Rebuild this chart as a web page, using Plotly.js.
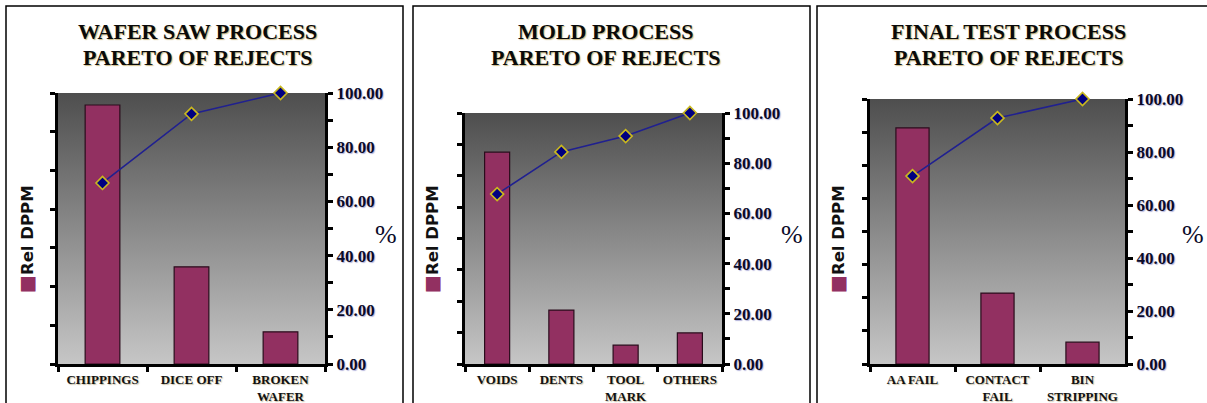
<!DOCTYPE html>
<html>
<head>
<meta charset="utf-8">
<script src="https://cdn.plot.ly/plotly-3.0.1.min.js"></script>
<style>
  html, body { margin: 0; padding: 0; background: #ffffff; }
  #chart { width: 1207px; height: 403px; }
</style>
</head>
<body>
<div id="chart"></div>
<script>
// ---------------- DATA ----------------
const waferCategories = ['CHIPPINGS', 'DICE OFF', 'BROKEN<br>WAFER'];
const waferDppm       = [6.69, 2.51, 0.83];
const waferCumPct     = [66.8, 92.3, 100];

const moldCategories  = ['VOIDS', 'DENTS', 'TOOL<br>MARK', 'OTHERS'];
const moldDppm        = [6.75, 1.72, 0.60, 0.99];
const moldCumPct      = [67.7, 84.5, 90.8, 100];

const finalCategories = ['AA FAIL', 'CONTACT<br>FAIL', 'BIN<br>STRIPPING'];
const finalDppm       = [7.13, 2.14, 0.66];
const finalCumPct     = [70.9, 92.8, 100];

const panelTitleLine1 = ['WAFER SAW PROCESS', 'MOLD PROCESS', 'FINAL TEST PROCESS'];
const panelTitleLine2 = ['PARETO OF REJECTS', 'PARETO OF REJECTS', 'PARETO OF REJECTS'];
const legendLabel = 'Rel DPPM';
const pctLabel = '%';

// ---------------- LAYOUT GEOMETRY (pixels) ----------------
const W = 1207, H = 403;
const geom = [
  {cats: waferCategories, vals: waferDppm, cum: waferCumPct, left: 58,  right: 325,  top: 93,  bottom: 364, lmax: 7, legX: 26,  pctX: 386,  titleX: 198,  border: [6, 403]},
  {cats: moldCategories,  vals: moldDppm,  cum: moldCumPct,  left: 465, right: 722,  top: 113, bottom: 364, lmax: 8, legX: 431, pctX: 792,  titleX: 605,  border: [413, 810]},
  {cats: finalCategories, vals: finalDppm, cum: finalCumPct, left: 870, right: 1125, top: 99,  bottom: 364, lmax: 8, legX: 837, pctX: 1193, titleX: 1008, border: [817, 1215]}
];
const px = x => x / W;
const py = y => 1 - y / H;

const serif = 'Liberation Serif, Times New Roman, serif';
const sans = 'DejaVu Sans, Verdana, sans-serif';

const bgSvg = "<svg xmlns='http://www.w3.org/2000/svg' width='100' height='100' preserveAspectRatio='none'>" +
  "<defs><linearGradient id='g' x1='0' y1='0' x2='0' y2='1'>" +
  "<stop offset='0' stop-color='#4e4e4e'/><stop offset='0.5' stop-color='#8a8a8a'/><stop offset='1' stop-color='#c6c6c6'/>" +
  "</linearGradient></defs><rect width='100' height='100' fill='url(#g)'/></svg>";
const bgSrc = 'data:image/svg+xml;charset=utf-8,' + encodeURIComponent(bgSvg);

const traces = [];
const layout = {
  width: W, height: H,
  margin: {l: 0, r: 0, t: 0, b: 0},
  paper_bgcolor: '#ffffff',
  plot_bgcolor: 'rgba(0,0,0,0)',
  showlegend: false,
  bargap: 0.61,
  images: [], shapes: [], annotations: []
};

const titleFont = {family: serif, size: 22, color: '#0a0a0a', weight: 'bold', shadow: '1px 1px 1px rgba(170,140,50,0.6)'};

geom.forEach((g, i) => {
  const xid = i === 0 ? 'x' : 'x' + (i + 1);
  const yLn = 2 * i + 1, yRn = 2 * i + 2;
  const yL = yLn === 1 ? 'y' : 'y' + yLn;
  const yR = 'y' + yRn;
  const xKey = i === 0 ? 'xaxis' : 'xaxis' + (i + 1);
  const yLKey = yLn === 1 ? 'yaxis' : 'yaxis' + yLn;
  const yRKey = 'yaxis' + yRn;

  traces.push({
    type: 'bar', x: g.cats, y: g.vals, xaxis: xid, yaxis: yL,
    marker: {color: '#923061', line: {color: '#2a0c1c', width: 1.2}},
    hoverinfo: 'skip'
  });
  traces.push({
    type: 'scatter', mode: 'lines+markers', x: g.cats, y: g.cum, xaxis: xid, yaxis: yR,
    line: {color: '#202090', width: 1.6},
    marker: {symbol: 'diamond', size: 10, color: '#000080', line: {color: '#c9b81e', width: 1.6}},
    cliponaxis: false,
    hoverinfo: 'skip'
  });

  layout[xKey] = {
    domain: [px(g.left), px(g.right)], anchor: yL,
    type: 'category', range: [-0.5, g.cats.length - 0.5],
    showline: true, linecolor: '#000', linewidth: 3,
    ticks: 'outside', tickson: 'boundaries', ticklen: 5, tickwidth: 3, tickcolor: '#000',
    tickangle: 0, automargin: false, ticklabelstandoff: 1,
    showgrid: false, zeroline: false, fixedrange: true,
    tickfont: {family: serif, size: 13, color: '#111111', weight: 'bold', shadow: '1px 1px 1px rgba(140,120,60,0.45)'}
  };
  layout[yLKey] = {
    domain: [py(g.bottom), py(g.top)], anchor: xid,
    range: [0, g.lmax], dtick: 1, tick0: 0,
    showline: true, linecolor: '#000', linewidth: 3,
    ticks: 'outside', ticklen: 5, tickwidth: 3, tickcolor: '#000',
    showticklabels: false, showgrid: false, zeroline: false, fixedrange: true
  };
  layout[yRKey] = {
    overlaying: yL, side: 'right', anchor: xid,
    range: [0, 100], dtick: 20, tick0: 0, tickformat: '.2f',
    showline: true, linecolor: '#000', linewidth: 3,
    ticks: 'outside', ticklen: 5, tickwidth: 3, tickcolor: '#000',
    minor: {dtick: 10, ticks: 'outside', ticklen: 5, tickwidth: 3, tickcolor: '#000'},
    showgrid: false, zeroline: false, fixedrange: true,
    tickfont: {family: serif, size: 17, color: '#0a0a28', weight: 'bold', shadow: '1px 1px 1px rgba(60,60,160,0.4)'}
  };

  layout.images.push({
    source: bgSrc, xref: xid + ' domain', yref: yL + ' domain',
    x: 0, y: 1, sizex: 1, sizey: 1, xanchor: 'left', yanchor: 'top',
    sizing: 'stretch', layer: 'below'
  });

  layout.shapes.push({
    type: 'rect', xref: 'paper', yref: 'paper',
    x0: px(g.border[0]), x1: px(g.border[1]), y0: -0.05, y1: py(6),
    line: {color: '#000', width: 1.5}, fillcolor: 'rgba(0,0,0,0)'
  });

  layout.annotations.push({
    text: panelTitleLine1[i], xref: 'paper', yref: 'paper',
    x: px(g.titleX), y: py(32), xanchor: 'center', yanchor: 'middle',
    showarrow: false, font: titleFont
  });
  layout.annotations.push({
    text: panelTitleLine2[i], xref: 'paper', yref: 'paper',
    x: px(g.titleX), y: py(57), xanchor: 'center', yanchor: 'middle',
    showarrow: false, font: titleFont
  });
  layout.annotations.push({
    text: '<span style="color:#923061;font-size:19px">■</span>' + legendLabel,
    xref: 'paper', yref: 'paper', x: px(g.legX), y: py(239),
    xanchor: 'center', yanchor: 'middle', textangle: -90, showarrow: false,
    font: {family: sans, size: 16.5, color: '#111111', weight: 'bold'}
  });
  layout.annotations.push({
    text: pctLabel, xref: 'paper', yref: 'paper', x: px(g.pctX), y: py(234),
    xanchor: 'center', yanchor: 'middle', showarrow: false,
    font: {family: serif, size: 26, color: '#0a0a28'}
  });
});

Plotly.newPlot('chart', traces, layout, {staticPlot: true, displayModeBar: false});
</script>
</body>
</html>
